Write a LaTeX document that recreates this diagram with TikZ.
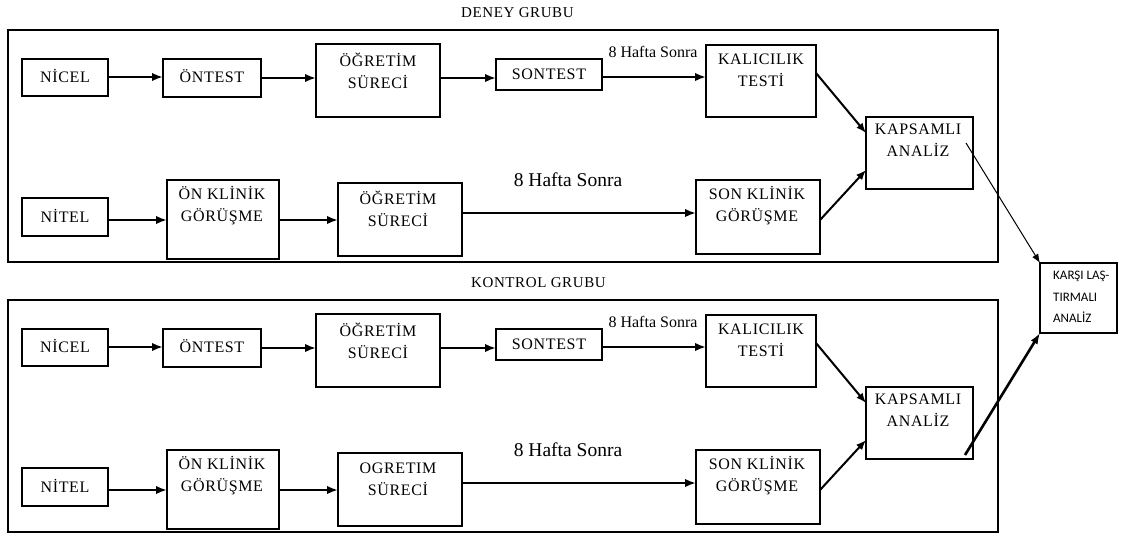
\documentclass[tikz,border=0pt]{standalone}
\usepackage{fontspec}
\setmainfont{Liberation Serif}
\newfontfamily\carlitofont{Carlito}
\newfontfamily\spacedserif[LetterSpace=4]{Liberation Serif}
\usetikzlibrary{arrows.meta,calc}
\begin{document}
\begin{tikzpicture}[x=1pt,y=-1pt,
  grpframe/.style={draw, line width=1.6pt, inner sep=0pt, outer sep=0pt},
  box/.style={draw, line width=1.8pt, inner sep=0pt, outer sep=0pt},
  txt/.style={font=\spacedserif\fontsize{16}{22}\selectfont, align=center, inner sep=0pt},
  ttl/.style={font=\spacedserif\fontsize{15}{18}\selectfont, inner sep=0pt, anchor=west},
  smalllbl/.style={font=\fontsize{16}{18}\selectfont, inner sep=0pt},
  biglbl/.style={font=\fontsize{19.5}{22}\selectfont, inner sep=0pt},
  arr/.style={-{Latex[length=11pt,width=8.5pt]}, line width=2.9pt},
  darr/.style={-{Latex[length=10pt,width=8pt]}, line width=2pt},
  tarr/.style={-{Latex[length=9pt,width=7pt]}, line width=1pt},
  barr/.style={-{Latex[length=11pt,width=8pt]}, line width=2.6pt}]
\useasboundingbox (0,0) rectangle (1121,544);
\fill[white] (0,0) rectangle (1121,544);

\foreach \dy/\g/\title/\tx/\ogt in {0/a/DENEY GRUBU/461/ÖĞRETİM, 270/b/KONTROL GRUBU/471/OGRETIM}{
\begin{scope}[yshift=-\dy pt]
  \node[ttl] (title\g) at (\tx,13) {\title};
  \node[grpframe, minimum width=990pt, minimum height=232pt] (frame\g) at (503,146) {};
  % row 1
  \node[box, minimum width=86pt, minimum height=37pt] (nicel\g) at (65,77.5) {};
  \node[txt] (nicel\g t) at (65,76) {NİCEL};
  \node[box, minimum width=98pt, minimum height=38pt] (ontest\g) at (212,78) {};
  \node[txt] (ontest\g t) at (212,76) {ÖNTEST};
  \node[box, minimum width=124pt, minimum height=73pt] (og\g) at (378,80.5) {};
  \node[txt] (og\g t) at (378,71) {ÖĞRETİM\\SÜRECİ};
  \node[box, minimum width=106pt, minimum height=31pt] (sontest\g) at (549,74.5) {};
  \node[txt] (sontest\g t) at (549,74) {SONTEST};
  \node[box, minimum width=110pt, minimum height=72pt] (kal\g) at (761,81) {};
  \node[txt] (kal\g t) at (761,70) {KALICILIK\\TESTİ};
  \node[box, minimum width=107pt, minimum height=72pt] (kap\g) at (919.5,153) {};
  \node[txt] (kap\g t) at (918,140) {KAPSAMLI\\ANALİZ};
  \node[smalllbl] (w1\g) at (653,52) {8 Hafta Sonra};
  % row 2
  \node[box, minimum width=86pt, minimum height=38pt] (nitel\g) at (65,217) {};
  \node[txt] (nitel\g t) at (65,216) {NİTEL};
  \node[box, minimum width=112pt, minimum height=79pt] (onk\g) at (223,219.5) {};
  \node[txt] (onk\g t) at (222,206) {ÖN KLİNİK\\GÖRÜŞME};
  \node[box, minimum width=124pt, minimum height=73pt] (ogb\g) at (400,219.5) {};
  \node[txt] (ogb\g t) at (398,209) {\ogt\\SÜRECİ};
  \node[box, minimum width=124pt, minimum height=74pt] (sonk\g) at (758,217) {};
  \node[txt] (sonk\g t) at (757,206) {SON KLİNİK\\GÖRÜŞME};
  \node[biglbl] (w2\g) at (568,180) {8 Hafta Sonra};
  % connectors
  \draw[arr] (nicel\g.east |- 0,77) -- (ontest\g.west |- 0,77);
  \draw[arr] (ontest\g.east |- 0,78) -- (og\g.west |- 0,78);
  \draw[arr] (og\g.east |- 0,78) -- (sontest\g.west |- 0,78);
  \draw[arr] (sontest\g.east |- 0,77) -- (kal\g.west |- 0,77);
  \draw[arr] (nitel\g.east |- 0,220) -- (onk\g.west |- 0,220);
  \draw[arr] (onk\g.east |- 0,220) -- (ogb\g.west |- 0,220);
  \draw[arr] (ogb\g.east |- 0,213) -- (sonk\g.west |- 0,213);
  \draw[darr] (kal\g.east |- 0,73) -- (kap\g.west |- 0,133);
  \draw[darr] (sonk\g.east |- 0,220) -- (kap\g.west |- 0,170);
\end{scope}
}

\node[box, minimum width=77pt, minimum height=70pt] (karsi) at (1078.5,298) {};
\node[font=\carlitofont\fontsize{13}{21.5}\selectfont, align=left, inner sep=0pt, anchor=west] (karsit) at (1053,297) {KARŞI LAŞ-\\TIRMALI\\ANALİZ};

\draw[tarr] ($(kapa.north east)+(-7,26)$) -- (karsi.north west);
\draw[barr] ($(kapb.south east)+(-8,-4)$) -- (karsi.south west);
\end{tikzpicture}
\end{document}
